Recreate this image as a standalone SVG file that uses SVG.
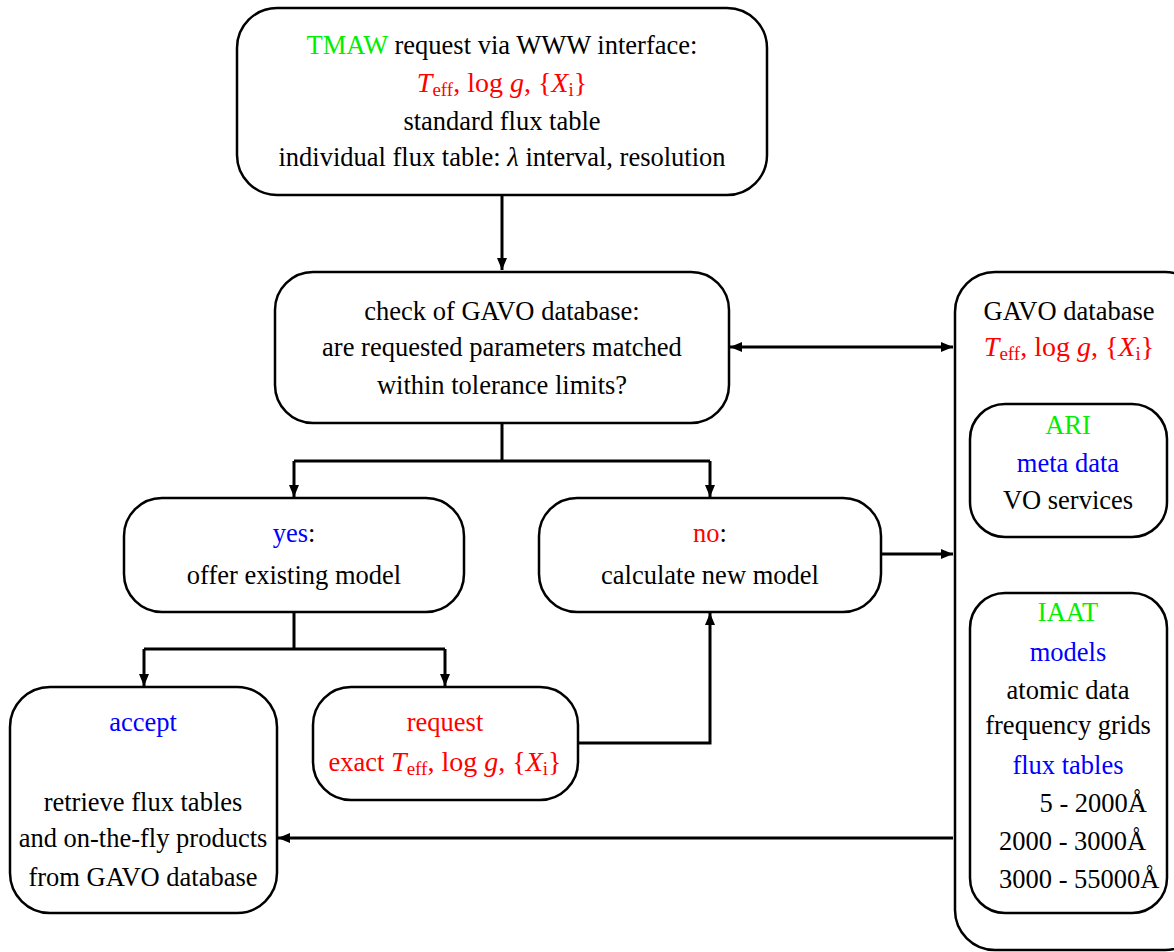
<svg xmlns="http://www.w3.org/2000/svg" width="1174" height="952" viewBox="0 0 1174 952">
<style>
.box{fill:#fff;stroke:#000;stroke-width:2.5}
.c{fill:none;stroke:#000;stroke-width:3}
text{font-family:"Liberation Serif","Times New Roman",serif;font-size:26.5px;fill:#000;text-anchor:middle}
.g{fill:#00ee00}.r{fill:#ff0000}.b{fill:#0000ff}
.i{font-style:italic}
.s{font-size:19px}
.m{font-size:28px}
</style>
<defs>
<marker id="ah" viewBox="0 0 12 10" refX="12" refY="5" markerWidth="12" markerHeight="10" markerUnits="userSpaceOnUse" orient="auto-start-reverse">
<path d="M0,0 L12,5 L0,10 z" fill="#000"/>
</marker>
</defs>
<g id="connectors">
<path class="c" d="M502,195 V270" marker-end="url(#ah)"/>
<path class="c" d="M502,423 V461 M294,461 H710"/>
<path class="c" d="M294,461 V497" marker-end="url(#ah)"/>
<path class="c" d="M710,461 V497" marker-end="url(#ah)"/>
<path class="c" d="M294,612 V649 M144,649 H445"/>
<path class="c" d="M144,649 V686" marker-end="url(#ah)"/>
<path class="c" d="M445,649 V686" marker-end="url(#ah)"/>
<path class="c" d="M578,743 H710 V613" marker-end="url(#ah)"/>
<path class="c" d="M881,554 H953" marker-end="url(#ah)"/>
<path class="c" d="M730,347 H953" marker-start="url(#ah)" marker-end="url(#ah)"/>
<path class="c" d="M1068,537 V592" marker-end="url(#ah)"/>
<path class="c" d="M953,838 H278" marker-end="url(#ah)"/>
</g>
<g id="gavo">
<rect class="box" x="955" y="272" width="250" height="678" rx="40"/>
<text x="1069" y="320">GAVO database</text>
<text x="1069" y="356" class="r m"><tspan class="i">T</tspan><tspan class="s" dy="4">eff</tspan><tspan dy="-4">, log </tspan><tspan class="i">g</tspan>, {<tspan class="i">X</tspan><tspan class="s" dy="4">i</tspan><tspan dy="-4">}</tspan></text>
</g>
<g id="tmaw">
<rect class="box" x="237" y="8" width="530" height="187" rx="40"/>
<text x="502" y="54"><tspan class="g">TMAW</tspan> request via WWW interface:</text>
<text x="502" y="92" class="r m"><tspan class="i">T</tspan><tspan class="s" dy="4">eff</tspan><tspan dy="-4">, log </tspan><tspan class="i">g</tspan>, {<tspan class="i">X</tspan><tspan class="s" dy="4">i</tspan><tspan dy="-4">}</tspan></text>
<text x="502" y="130">standard flux table</text>
<text x="502" y="166">individual flux table: <tspan class="i">λ</tspan> interval, resolution</text>
</g>
<g id="check">
<rect class="box" x="275" y="272" width="454" height="151" rx="38"/>
<text x="502" y="320">check of GAVO database:</text>
<text x="502" y="356">are requested parameters matched</text>
<text x="502" y="394">within tolerance limits?</text>
</g>
<g id="yes">
<rect class="box" x="124" y="498" width="340" height="114" rx="38"/>
<text x="294" y="542"><tspan class="b">yes</tspan>:</text>
<text x="294" y="584">offer existing model</text>
</g>
<g id="no">
<rect class="box" x="539" y="498" width="342" height="114" rx="38"/>
<text x="710" y="542"><tspan class="r">no</tspan>:</text>
<text x="710" y="584">calculate new model</text>
</g>
<g id="accept">
<rect class="box" x="10" y="687" width="267" height="226" rx="40"/>
<text x="143" y="731" class="b">accept</text>
<text x="143" y="811">retrieve flux tables</text>
<text x="143" y="847">and on-the-fly products</text>
<text x="143" y="886">from GAVO database</text>
</g>
<g id="request">
<rect class="box" x="313" y="687" width="265" height="113" rx="38"/>
<text x="445" y="731" class="r">request</text>
<text x="445" y="771" class="r">exact <tspan class="i m">T</tspan><tspan class="s" dy="4">eff</tspan><tspan class="m" dy="-4">, log </tspan><tspan class="i m">g</tspan><tspan class="m">, {</tspan><tspan class="i m">X</tspan><tspan class="s" dy="4">i</tspan><tspan class="m" dy="-4">}</tspan></text>
</g>
<g id="ari">
<rect class="box" x="970" y="404" width="197" height="133" rx="35"/>
<text x="1068" y="434" class="g">ARI</text>
<text x="1068" y="472" class="b">meta data</text>
<text x="1068" y="509">VO services</text>
</g>
<g id="iaat">
<rect class="box" x="970" y="593" width="197" height="320" rx="35"/>
<text x="1068" y="621" class="g">IAAT</text>
<text x="1068" y="661" class="b">models</text>
<text x="1068" y="699">atomic data</text>
<text x="1068" y="734">frequency grids</text>
<text x="1068" y="774" class="b">flux tables</text>
<text x="1147" y="812" style="text-anchor:end">5 - 2000Å</text>
<text x="999" y="850" style="text-anchor:start">2000 - 3000Å</text>
<text x="999" y="888" style="text-anchor:start">3000 - 55000Å</text>
</g>
</svg>
